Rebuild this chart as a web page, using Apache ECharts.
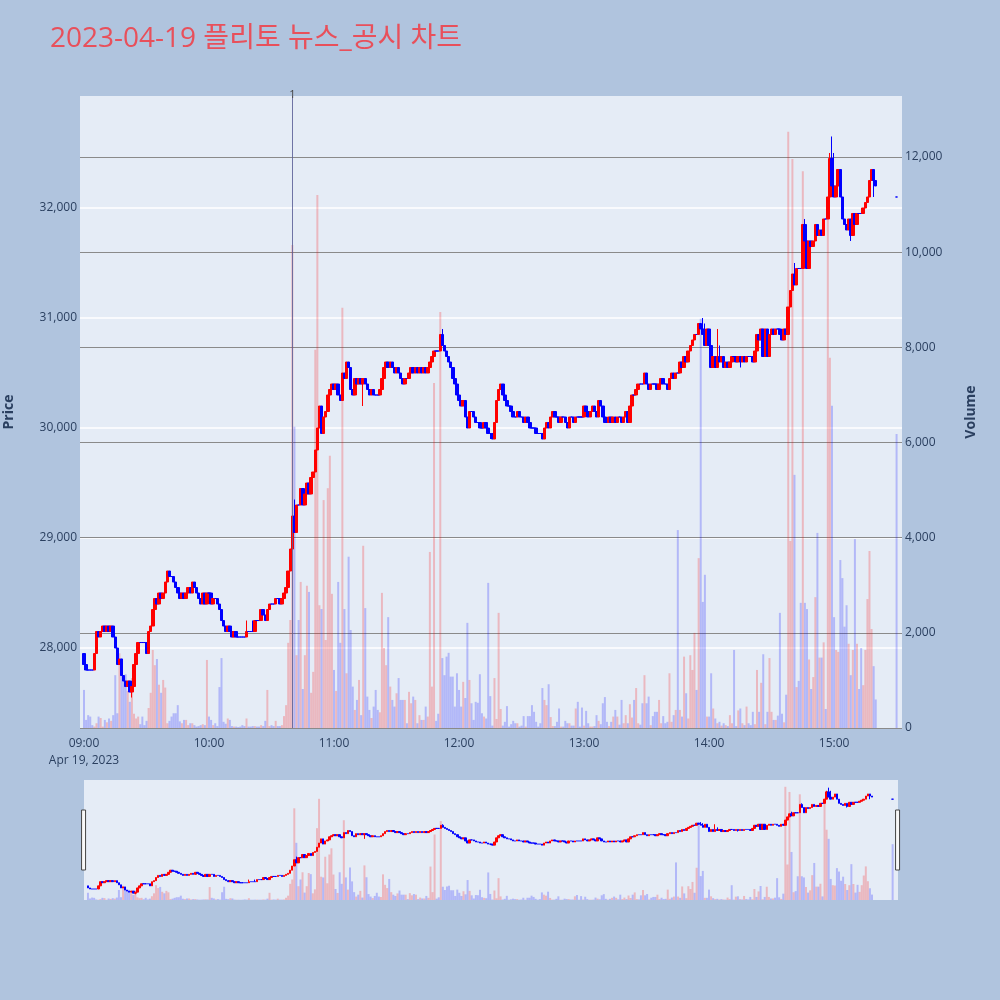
<!DOCTYPE html>
<html><head><meta charset="utf-8">
<script src="https://cdn.jsdelivr.net/npm/echarts@6/dist/echarts.min.js"></script>
<style>html,body{margin:0;padding:0;background:#b0c4de;}#c{width:1000px;height:1000px;}</style>
</head><body><div id="c"></div>
<script>
// ---- data (1-minute candles, minute index from 09:00) ----
const titleText = '2023-04-19 플리토 뉴스_공시 차트';
const firstOpen = 27950;
const closes = [
27850,27800,27800,27800,27800,27950,28150,28100,28150,28200,
28150,28200,28150,28200,28100,28000,27850,27900,27750,27700,
27650,27700,27600,27650,27850,27950,28050,28050,28050,28050,
27950,28150,28200,28350,28450,28400,28500,28450,28500,28600,
28700,28650,28650,28600,28550,28500,28450,28500,28450,28500,
28550,28500,28600,28550,28500,28450,28400,28500,28400,28500,
28500,28400,28450,28450,28400,28350,28250,28200,28150,28200,
28150,28100,28150,28100,28100,28100,28100,28100,28150,28150,
28150,28150,28250,28250,28250,28350,28300,28250,28350,28400,
28400,28400,28450,28450,28400,28450,28500,28550,28700,28900,
29200,29050,29300,29300,29450,29300,29400,29500,29400,29550,
29600,29800,30000,30200,29950,30100,30150,30300,30350,30400,
30350,30400,30300,30250,30500,30450,30600,30550,30350,30300,
30450,30400,30450,30400,30450,30400,30350,30300,30350,30300,
30300,30300,30350,30450,30550,30600,30550,30600,30550,30500,
30550,30500,30450,30400,30450,30450,30500,30550,30500,30550,
30500,30550,30500,30550,30500,30550,30600,30650,30700,30700,
30700,30850,30750,30700,30650,30600,30550,30450,30400,30300,
30250,30200,30250,30100,30000,30150,30150,30100,30050,30050,
30000,30000,30050,30000,29950,29950,29900,30050,30250,30350,
30400,30300,30250,30200,30200,30150,30100,30100,30150,30100,
30100,30050,30100,30050,30000,30000,30000,29950,29950,29950,
29900,30000,30050,30000,30100,30150,30100,30100,30050,30100,
30100,30050,30000,30100,30100,30050,30100,30100,30100,30100,
30200,30150,30100,30150,30200,30150,30100,30250,30200,30100,
30050,30050,30100,30050,30100,30050,30100,30100,30050,30100,
30150,30050,30200,30300,30300,30350,30400,30400,30400,30500,
30400,30350,30400,30400,30400,30350,30400,30450,30400,30400,
30350,30450,30500,30450,30500,30500,30600,30550,30650,30600,
30700,30750,30800,30850,30850,30950,30900,30850,30750,30900,
30750,30550,30650,30550,30650,30600,30650,30550,30600,30550,
30600,30650,30650,30600,30650,30600,30650,30600,30650,30650,
30650,30600,30700,30850,30800,30900,30650,30900,30650,30850,
30900,30850,30900,30900,30850,30800,30900,30850,31100,31250,
31400,31300,31450,31450,31450,31850,31700,31450,31700,31650,
31700,31850,31750,31800,31750,31900,31900,32100,32450,32200,
32100,32200,32350,32100,31900,31850,31800,31900,31750,31950,
31850,31950,31950,31950,32000,32050,32100,32250,32350,32250,
32200
];
const volumes = [
800,170,270,240,60,30,100,240,210,30,
170,120,200,150,270,1110,310,1570,1470,1050,
1130,780,550,1050,300,200,240,80,240,60,
150,420,740,1640,1320,1450,910,740,1010,850,
100,150,240,310,310,480,140,100,170,170,
60,100,100,60,30,40,60,80,60,1430,
240,170,60,100,40,860,1470,130,90,200,
170,40,30,30,20,30,60,40,200,30,
30,40,40,30,30,60,40,150,800,40,
60,40,150,40,40,60,250,480,1790,2270,
10150,6330,1530,2270,3070,820,1530,2990,2860,740,
1180,7950,11200,2580,2500,4790,1850,5040,5720,2820,
1220,780,3070,1790,8830,2500,1150,3600,2060,870,
380,590,1010,270,3830,2520,660,380,210,450,
800,380,330,2840,1680,1320,2330,870,590,450,
730,1050,590,590,590,100,760,520,660,590,
100,270,170,170,450,240,3700,870,7250,150,
300,8740,1470,1110,1500,1580,1080,1080,450,1150,
800,450,970,630,2210,1010,520,170,550,530,
1130,310,240,200,3050,670,50,1050,190,2420,
400,50,130,460,30,80,150,100,100,30,
50,250,30,250,250,480,340,130,30,100,
840,590,480,920,230,40,40,130,410,30,
30,150,100,100,50,50,410,550,30,430,
50,360,100,30,30,40,270,150,80,520,
650,130,40,130,240,380,240,70,590,100,
270,100,500,220,590,840,100,70,520,1110,
520,660,60,250,340,340,590,100,250,100,
130,1150,130,270,380,4160,380,240,1500,730,
200,1530,1220,2000,800,3570,8600,2650,3220,240,
240,1150,410,200,100,130,50,100,60,40,
270,100,1640,40,370,410,100,60,450,100,
60,340,80,1220,340,950,1550,80,340,1470,
340,170,170,260,2420,300,120,700,12530,3930,
11960,5320,860,990,2630,11700,2630,2500,1440,820,
1070,2750,4100,1480,1480,1800,400,10800,7780,6770,
2330,1640,1600,3530,3150,2130,2580,1770,1110,1640,
3970,1770,820,1680,900,1640,2710,3720,2080,1300,
600
];
const highWicks = [[78,28250],[81,28250],[101,29350],[172,30900],[201,30400],[297,31000],[298,30950],[304,30900],[305,30750],[326,30900],[341,31500],[346,31900],[358,32500],[359,32650],[360,32500]];
const lowWicks = [[23,27550],[134,30200],[195,29900],[315,30550],[368,31700],[379,32100]];
const auctionMinute = 390, auctionPrice = 32100, auctionVolume = 6180;
const newsMinutes = [100];
const newsLabels = ['1'];
const xTickMinutes = [0,60,120,180,240,300,360];
const xTickLabels = ['09:00\nApr 19, 2023','10:00','11:00','12:00','13:00','14:00','15:00'];
const priceTicks = [28000,29000,30000,31000,32000];
const volumeTicks = [0,2000,4000,6000,8000,10000,12000];

// ---- build series data ----
const UP = '#ff0000', DOWN = '#0000ff';
const UPV = 'rgba(255,0,0,0.22)', DOWNV = 'rgba(0,0,255,0.22)';
const hiMap = new Map(highWicks), loMap = new Map(lowWicks);
const candles = [], volBars = [];
let prev = firstOpen;
closes.forEach((c, i) => {
  const o = prev;
  let hi = Math.max(o, c), lo = Math.min(o, c);
  if (hiMap.has(i)) hi = Math.max(hi, hiMap.get(i));
  if (loMap.has(i)) lo = Math.min(lo, loMap.get(i));
  candles.push([i, o, c, lo, hi]);
  volBars.push({ value: [i, volumes[i]], itemStyle: { color: c > o ? UPV : DOWNV } });
  prev = c;
});
candles.push([auctionMinute, auctionPrice, auctionPrice, auctionPrice, auctionPrice]);
volBars.push({ value: [auctionMinute, auctionVolume], itemStyle: { color: DOWNV } });

const FONT = "'Open Sans', 'Noto Sans CJK KR', sans-serif";
const TXT = '#2a3f5f';
const xMin = -1.92, xMax = 392.6;
const pMin = 27273, pMax = 33018;
const vMin = 0, vMax = 13282;

const chart = echarts.init(document.getElementById('c'));
chart.setOption({
  animation: false,
  backgroundColor: '#b0c4de',
  textStyle: { fontFamily: FONT },
  title: { text: titleText, left: 45, top: 20,
    textStyle: { color: '#e8505b', fontSize: 28, fontWeight: 'normal', fontFamily: FONT } },
  grid: [
    { left: 80, right: 98, top: 96, height: 632, show: true, backgroundColor: '#e5ecf6', borderWidth: 0,
      containLabel: false, outerBoundsMode: 'none' },
    { left: 84, right: 102, top: 780, height: 120, show: true, backgroundColor: '#e5ecf6', borderWidth: 0,
      containLabel: false, outerBoundsMode: 'none' }
  ],
  xAxis: [
    { type: 'value', gridIndex: 0, min: xMin, max: xMax,
      axisLine: { show: false }, axisTick: { show: false }, splitLine: { show: false },
      axisLabel: { customValues: xTickMinutes, color: TXT, fontSize: 12, lineHeight: 17, margin: 7,
        formatter: v => xTickLabels[xTickMinutes.indexOf(v)] } },
    { type: 'value', gridIndex: 1, min: xMin, max: xMax, show: false, splitLine: { show: false } }
  ],
  yAxis: [
    { type: 'value', gridIndex: 0, position: 'left', min: pMin, max: pMax,
      name: 'Price', nameLocation: 'middle', nameRotate: 90, nameGap: 64,
      nameTextStyle: { color: TXT, fontSize: 14, fontWeight: 'bold' },
      axisLine: { show: false }, axisTick: { show: false, customValues: priceTicks },
      axisLabel: { customValues: priceTicks, color: TXT, fontSize: 12, margin: 3,
        formatter: v => v.toLocaleString('en-US') },
      splitLine: { show: true, lineStyle: { color: '#ffffff', width: 1.5 } } },
    { type: 'value', gridIndex: 0, position: 'right', min: vMin, max: vMax,
      name: 'Volume', nameLocation: 'middle', nameRotate: 90, nameGap: 62,
      nameTextStyle: { color: TXT, fontSize: 14, fontWeight: 'bold' },
      axisLine: { show: false }, axisTick: { show: false, customValues: volumeTicks },
      axisLabel: { customValues: volumeTicks, color: TXT, fontSize: 12, margin: 3,
        formatter: v => v.toLocaleString('en-US') },
      splitLine: { show: true, lineStyle: { color: '#8a8a8a', width: 1 } } },
    { type: 'value', gridIndex: 1, min: pMin, max: pMax, show: false, splitLine: { show: false } },
    { type: 'value', gridIndex: 1, min: vMin, max: vMax, show: false, splitLine: { show: false } }
  ],
  dataZoom: [{
    type: 'slider', xAxisIndex: 1, filterMode: 'none', start: 0, end: 100,
    left: 82, width: 816, top: 780, height: 120,
    backgroundColor: 'rgba(0,0,0,0)', borderColor: 'rgba(0,0,0,0)', fillerColor: 'rgba(0,0,0,0)',
    showDataShadow: false, showDetail: false, brushSelect: false, moveHandleSize: 0,
    handleIcon: 'path://M0,0h2v30h-2z', handleSize: '50%',
    handleStyle: { color: '#f8f8f8', borderColor: '#444', borderWidth: 1 },
    emphasis: { handleStyle: { color: '#f8f8f8', borderColor: '#444' } }
  }],
  series: [
    { type: 'bar', name: 'vol', xAxisIndex: 0, yAxisIndex: 1, data: volBars, barWidth: 2, z: 1, silent: true },
    { type: 'candlestick', name: 'price', xAxisIndex: 0, yAxisIndex: 0, data: candles,
      encode: { x: 0, y: [1, 2, 3, 4] }, barWidth: 3, z: 3, silent: true,
      itemStyle: { color: UP, color0: DOWN, borderColor: UP, borderColor0: DOWN, borderColorDoji: DOWN, borderWidth: 1 },
      markLine: { silent: true, symbol: ['none', 'none'],
        lineStyle: { color: 'rgba(90,95,150,0.85)', type: 'solid', width: 1 },
        label: { show: true, position: 'end', distance: -4, color: '#444', fontSize: 11,
          formatter: p => newsLabels[newsMinutes.indexOf(p.value)] },
        data: newsMinutes.map(m => ({ xAxis: m })) } },
    { type: 'bar', name: 'vol-mini', xAxisIndex: 1, yAxisIndex: 3, data: volBars, barWidth: 2, z: 1, silent: true },
    { type: 'candlestick', name: 'price-mini', xAxisIndex: 1, yAxisIndex: 2, data: candles,
      encode: { x: 0, y: [1, 2, 3, 4] }, barWidth: 2, z: 3, silent: true,
      itemStyle: { color: UP, color0: DOWN, borderColor: UP, borderColor0: DOWN, borderColorDoji: DOWN, borderWidth: 1 } }
  ]
});
</script>
</body></html>
